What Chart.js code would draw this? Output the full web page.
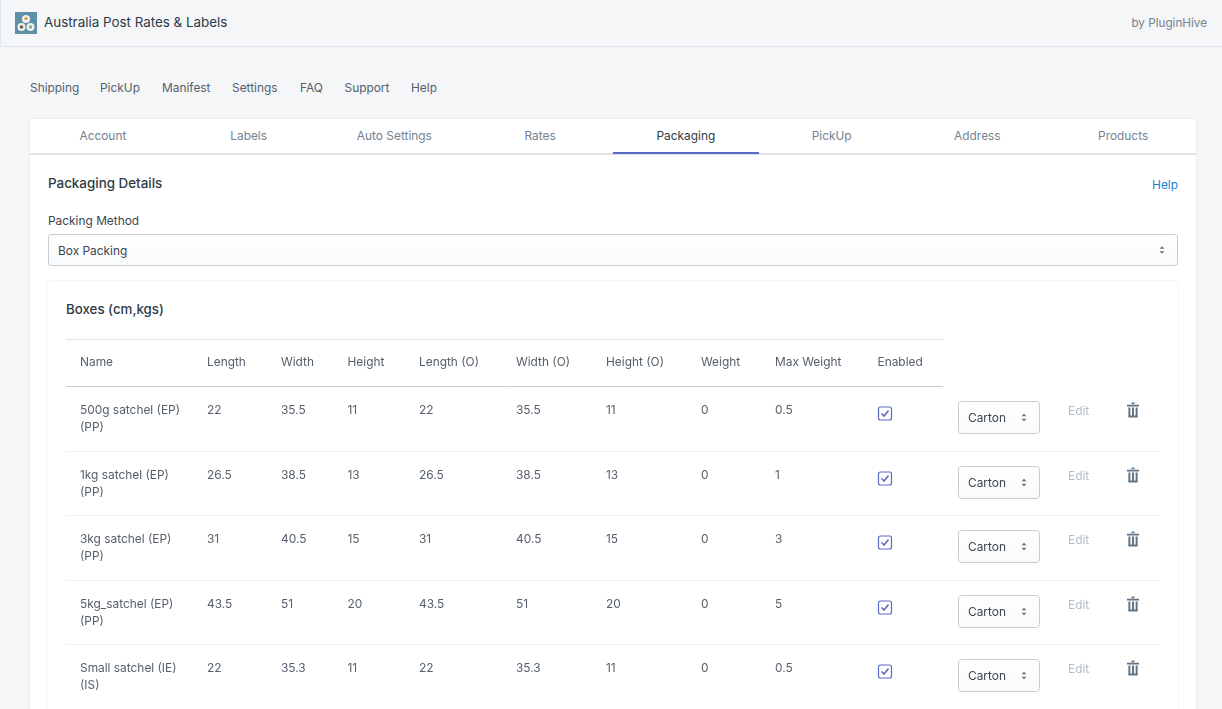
<!DOCTYPE html>
<html><head><meta charset="utf-8">
<script src="https://cdn.jsdelivr.net/npm/chart.js@4"></script>
<style>
html,body{margin:0;padding:0;width:1222px;height:709px;overflow:hidden;background:#f4f6f8;font-family:Inter,"Noto Sans",sans-serif;font-size:11.9px;color:#56606c}
.a{position:absolute;white-space:nowrap;line-height:16px}
.box{position:absolute;box-sizing:border-box}
.tab{position:absolute;top:128px;width:145.75px;text-align:center;color:#76828f;line-height:16px}
.arrows{position:absolute;width:6px;height:10px}
#wrap{position:absolute;left:0;top:339px;width:1222px;height:370px}
</style></head><body>
<div class="box" style="left:0;top:0;width:1222px;height:47px;border-bottom:1px solid #dfe3e8;border-left:1px solid #e3e7ee"></div>
<svg class="box" style="left:15px;top:12px" width="22" height="22" viewBox="0 0 22 22"><rect width="22" height="22" fill="#5f8fa6"/><circle cx="11" cy="7" r="4" fill="#eef2f2"/><circle cx="6.5" cy="15" r="4" fill="#eef2f2"/><circle cx="15.5" cy="15" r="4" fill="#eef2f2"/><circle cx="11" cy="6.5" r="1.6" fill="#d9923a"/><circle cx="6.5" cy="15" r="1.8" fill="#7a5a44"/><circle cx="15.5" cy="15" r="1.8" fill="#7fb38a"/></svg>
<div class="a" style="left:44px;top:14px;font-size:13.4px;color:#2f3a45">Australia Post Rates &amp; Labels</div>
<div class="a" style="right:15px;top:15px;font-size:11.7px;color:#76828f">by PluginHive</div>
<div class="a" style="left:30px;top:80px">Shipping</div>
<div class="a" style="left:100px;top:80px">PickUp</div>
<div class="a" style="left:162px;top:80px">Manifest</div>
<div class="a" style="left:232px;top:80px">Settings</div>
<div class="a" style="left:300px;top:80px">FAQ</div>
<div class="a" style="left:344.5px;top:80px">Support</div>
<div class="a" style="left:411px;top:80px">Help</div>

<div class="box" style="left:30px;top:119px;width:1166px;height:600px;background:#fff;border-radius:3px;box-shadow:0 0 2px rgba(63,63,68,.12)"></div>
<div class="box" style="left:30px;top:153px;width:1166px;height:1.5px;background:#dfe3e8"></div>
<div class="tab" style="left:30px">Account</div>
<div class="tab" style="left:175.75px">Labels</div>
<div class="tab" style="left:321.5px">Auto Settings</div>
<div class="tab" style="left:467.25px">Rates</div>
<div class="tab" style="left:613px;color:#2f3a45">Packaging</div>
<div class="tab" style="left:758.75px">PickUp</div>
<div class="tab" style="left:904.5px">Address</div>
<div class="tab" style="left:1050.25px">Products</div>
<div class="box" style="left:613px;top:152px;width:146px;height:2px;background:#5c6ac4"></div>

<div class="a" style="left:48px;top:175px;font-size:13.4px;font-weight:500;color:#2f3a45">Packaging Details</div>
<div class="a" style="right:44px;top:177px;color:#1b82d3">Help</div>
<div class="a" style="left:48px;top:213px;color:#3c4650">Packing Method</div>
<div class="box" style="left:48px;top:234px;width:1130px;height:32px;border:1px solid #c4cdd5;border-radius:3px;background:linear-gradient(#fff,#f9fafb)"></div>
<div class="a" style="left:58px;top:243px;color:#3c4650">Box Packing</div>
<svg class="arrows" style="left:1159px;top:245px" viewBox="0 0 6 10"><path d="M.5 3.8L3 1.3L5.5 3.8ZM.5 6.2L3 8.7L5.5 6.2Z" fill="#637381"/></svg>

<div class="box" style="left:48px;top:281px;width:1130px;height:440px;background:#fff;border-radius:3px;box-shadow:0 0 2px rgba(63,63,68,.14)"></div>
<div class="a" style="left:66px;top:301px;font-size:13.3px;font-weight:500;color:#2f3a45">Boxes (cm,kgs)</div>

<div id="wrap"><canvas id="c" width="1222" height="370"></canvas></div>
<script>
const columns = ["Name","Length","Width","Height","Length (O)","Width (O)","Height (O)","Weight","Max Weight","Enabled"];
const names = [["500g satchel (EP)","(PP)"],["1kg satchel (EP)","(PP)"],["3kg satchel (EP)","(PP)"],["5kg_satchel (EP)","(PP)"],["Small satchel (IE)","(IS)"]];
const lengths = [22,26.5,31,43.5,22];
const widths = [35.5,38.5,40.5,51,35.3];
const heights = [11,13,15,20,11];
const lengthsO = [22,26.5,31,43.5,22];
const widthsO = [35.5,38.5,40.5,51,35.3];
const heightsO = [11,13,15,20,11];
const weights = [0,0,0,0,0];
const maxWeights = [0.5,1,3,5,0.5];
const packaging = ["Carton","Carton","Carton","Carton","Carton"];
const actionLabel = "Edit";

// layout only: left edges of the table columns, in canvas pixels
const columnX = [80,207,281,347.5,419,516,606,701,775,877.5];
const selectX = 958, editX = 1068, trashX = 1133;
const headerRow = -0.744;

const valueColumns = [lengths,widths,heights,lengthsO,widthsO,heightsO,weights,maxWeights];

const cellPlugin = {
  id:'cells',
  afterDatasetsDraw(chart){
    const {ctx,scales:{x,y}} = chart;
    const font = '11.9px Inter, "Noto Sans", sans-serif';
    const hline = (px,x0,x1,col)=>{ctx.strokeStyle=col;ctx.lineWidth=1;ctx.beginPath();const p=Math.max(0,Math.floor(px))+.5;ctx.moveTo(x.getPixelForValue(x0),p);ctx.lineTo(x.getPixelForValue(x1),p);ctx.stroke();};
    ctx.save();
    ctx.font=font;ctx.textBaseline='middle';ctx.textAlign='left';
    // rules
    hline(y.getPixelForValue(headerRow-0.357),66,943,'#dfe3e8');
    hline(y.getPixelForValue(headerRow+0.372),66,943,'#c4cdd5');
    names.forEach((n,i)=>hline(y.getPixelForValue(i+0.636),66,1160,'#eef0f2'));
    // text and controls from dataset points
    chart.data.datasets.forEach((ds,di)=>{
      const meta=chart.getDatasetMeta(di);
      meta.data.forEach((pt,i)=>{
        const r=ds.raw[i];
        ctx.fillStyle=ds.color||'#56606c';
        const off=ds.dy||0;
        const py=Math.round(pt.y);
        if(ds.kind==='text'){
          r.forEach((line,l)=>ctx.fillText(String(line),pt.x,py+off+l*17));
        } else if(ds.kind==='check'){
          ctx.strokeStyle='#5c6ac4';ctx.lineWidth=1.2;ctx.fillStyle='#fff';
          ctx.beginPath();ctx.roundRect(pt.x+1,py-3,13,13,2);ctx.fill();ctx.stroke();
          ctx.lineWidth=1.6;ctx.beginPath();ctx.moveTo(pt.x+4,py+3.5);ctx.lineTo(pt.x+6.5,py+6);ctx.lineTo(pt.x+11,py+.5);ctx.stroke();
        } else if(ds.kind==='select'){
          const t=py-9,g=ctx.createLinearGradient(0,t,0,t+33);g.addColorStop(0,'#fff');g.addColorStop(1,'#f9fafb');
          ctx.fillStyle=g;ctx.strokeStyle='#c4cdd5';ctx.lineWidth=1;
          ctx.beginPath();ctx.roundRect(pt.x+.5,t+.5,81,32,3);ctx.fill();ctx.stroke();
          ctx.fillStyle='#3c4650';ctx.fillText(r,pt.x+10,py+8);
          ctx.fillStyle='#637381';const ax=pt.x+66,ay=py+7.5;
          ctx.beginPath();ctx.moveTo(ax-2.5,ay-1.3);ctx.lineTo(ax,ay-3.8);ctx.lineTo(ax+2.5,ay-1.3);ctx.closePath();
          ctx.moveTo(ax-2.5,ay+1.3);ctx.lineTo(ax,ay+3.8);ctx.lineTo(ax+2.5,ay+1.3);ctx.closePath();ctx.fill();
        } else if(ds.kind==='trash'){
          ctx.fillStyle='#637381';const c=pt.x,m=py+.5;
          ctx.fillRect(c-1.5,m-8,3,1.6);
          ctx.fillRect(c-6,m-5.8,12,1.8);
          ctx.fillRect(c-4.6,m-3,2,9);ctx.fillRect(c-1,m-3,2,9);ctx.fillRect(c+2.6,m-3,2,9);
          ctx.fillRect(c-4.6,m+5,9.2,2);
        }
      });
    });
    ctx.restore();
  }
};

const textSet=(xv,rows,raw,color,dy)=>({kind:'text',color,dy,raw,data:rows.map(r=>({x:xv,y:r})),pointRadius:0,showLine:false});
const rowIdx=names.map((_,i)=>i);
const datasets=[
  ...columns.map((c,i)=>textSet(columnX[i],[headerRow],[[c]],'#56606c',0)),
  textSet(columnX[0],rowIdx,names,'#56606c',0),
  ...valueColumns.map((v,i)=>textSet(columnX[i+1],rowIdx,v.map(a=>[a]),'#56606c',0)),
  {kind:'check',raw:names,data:rowIdx.map(r=>({x:columnX[9],y:r})),pointRadius:0,showLine:false},
  {kind:'select',raw:packaging,data:rowIdx.map(r=>({x:selectX,y:r})),pointRadius:0,showLine:false},
  textSet(editX,rowIdx,names.map(()=>[actionLabel]),'#b4bdc6',1),
  {kind:'trash',raw:names,data:rowIdx.map(r=>({x:trashX,y:r})),pointRadius:0,showLine:false}
];

new Chart(document.getElementById('c'),{
  type:'scatter',
  data:{datasets},
  plugins:[cellPlugin],
  options:{
    responsive:false,animation:false,devicePixelRatio:1,
    layout:{padding:0},
    plugins:{legend:{display:false},tooltip:{enabled:false}},
    scales:{
      x:{type:'linear',display:false,min:0,max:1222},
      y:{type:'linear',display:false,reverse:true,min:-71/64.5,max:299/64.5}
    }
  }
});
</script>
</body></html>
